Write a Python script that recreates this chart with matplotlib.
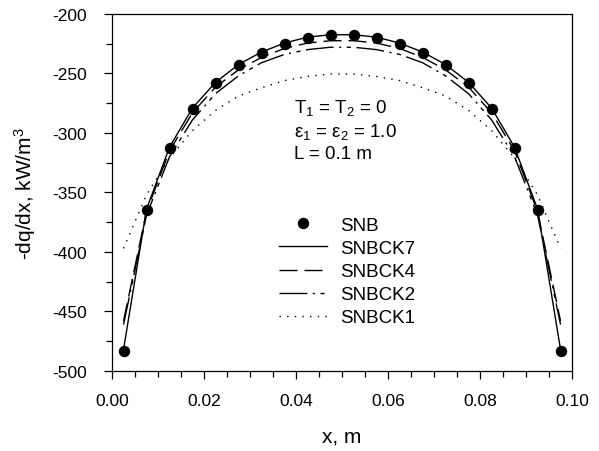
import matplotlib
matplotlib.use('Agg')
import matplotlib.pyplot as plt
from matplotlib.ticker import MultipleLocator

plt.rcParams['font.family'] = ['Liberation Sans', 'DejaVu Sans']
plt.rcParams['mathtext.fontset'] = 'custom'
plt.rcParams['mathtext.rm'] = 'Liberation Sans'
plt.rcParams['mathtext.it'] = 'Liberation Sans:italic'
plt.rcParams['axes.unicode_minus'] = False

x = [0.0025, 0.0075, 0.0125, 0.0175, 0.0225, 0.0275, 0.0325, 0.0375, 0.0425, 0.0475,
     0.0525, 0.0575, 0.0625, 0.0675, 0.0725, 0.0775, 0.0825, 0.0875, 0.0925, 0.0975]

snb = [-483, -365, -313, -280, -258, -243, -232.5, -225, -220, -218,
       -218, -220, -225, -232.5, -243, -258, -280, -313, -365, -483]
snbck7 = [-482, -364, -312, -279, -257.5, -242.5, -232, -224.5, -219.5, -217.5,
          -217.5, -219.5, -224.5, -232, -242.5, -257.5, -279, -312, -364, -482]
snbck4 = [-458, -366, -315, -283, -261.5, -247, -236.5, -229, -224.5, -222.5,
          -222.5, -224.5, -229, -236.5, -247, -261.5, -283, -315, -366, -458]
snbck2 = [-461, -369, -320, -289, -267, -252, -241, -234, -230, -228,
          -228, -230, -234, -241, -252, -267, -289, -320, -369, -461]
snbck1 = [-397, -352, -321, -298, -281, -269, -262, -256, -252.5, -250.5,
          -250.5, -252.5, -256, -262, -269, -281, -298, -321, -352, -397]

fig = plt.figure(figsize=(5.99, 4.52), dpi=100)
ax = fig.add_axes([0.187, 0.177, 0.768, 0.79])

lw = 1.0
ax.plot(x, snb, 'o', color='black', markersize=7.2, label='SNB')
ax.plot(x, snbck7, '-', color='black', lw=lw, label='SNBCK7')
ax.plot(x, snbck4, color='black', lw=lw, dashes=(13, 5), label='SNBCK4')
ax.plot(x, snbck2, color='black', lw=lw, dashes=(20, 4, 1.5, 4, 3, 4), label='SNBCK2')
ax.plot(x, snbck1, color='black', lw=lw, dashes=(1, 4.5), label='SNBCK1')

ax.set_xlim(0, 0.10)
ax.set_ylim(-500, -200)
ax.xaxis.set_major_locator(MultipleLocator(0.02))
ax.xaxis.set_minor_locator(MultipleLocator(0.005))
ax.yaxis.set_major_locator(MultipleLocator(50))
ax.yaxis.set_minor_locator(MultipleLocator(25))
ax.set_xticklabels([f'{v:.2f}' for v in ax.get_xticks()])
ax.tick_params(which='major', direction='out', length=6, width=0.9, labelsize=12.5)
ax.tick_params(which='minor', direction='out', length=4, width=0.9)
ax.tick_params(axis='x', which='major', pad=10)
ax.tick_params(axis='y', which='major', pad=12)
for s in ax.spines.values():
    s.set_linewidth(0.9)

ax.set_xlabel('x, m', fontsize=15, labelpad=13)
ax.set_ylabel('-dq/dx, kW/m$^3$', fontsize=15, labelpad=10)

ax.text(0.0396, -278, 'T$_1$ = T$_2$ = 0', fontsize=13.5, va='center')
ax.text(0.0396, -298, 'ε$_1$ = ε$_2$ = 1.0', fontsize=13.5, va='center')
ax.text(0.0396, -317.5, 'L = 0.1 m', fontsize=13.5, va='center')

ax.legend(loc='upper left', bbox_to_anchor=(0.362, 0.432), frameon=False, fontsize=13.5,
          handlelength=2.6, handletextpad=0.7, labelspacing=0.32, borderpad=0, borderaxespad=0)

fig.savefig('out.png', dpi=100)
